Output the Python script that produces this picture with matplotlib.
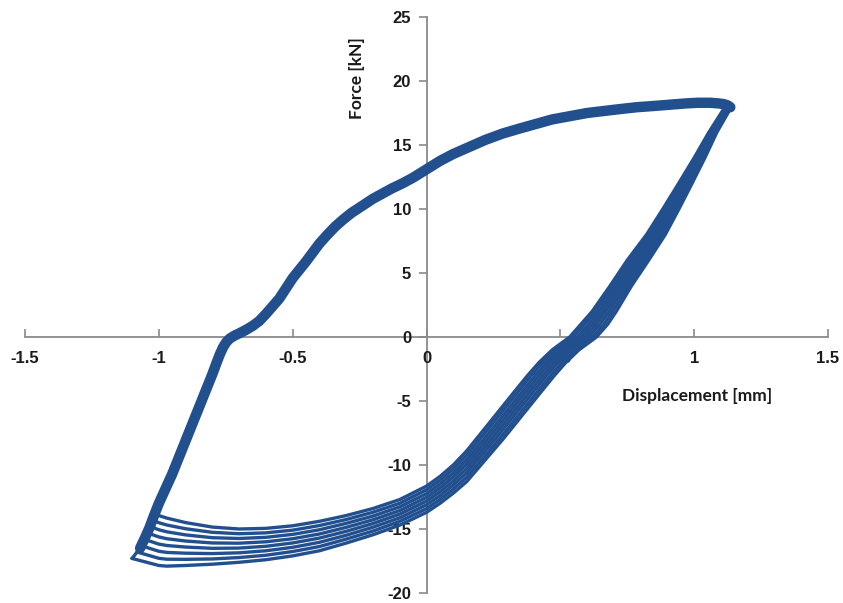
import matplotlib
matplotlib.use("Agg")
import matplotlib.pyplot as plt

# Loading branch (negative peak -> positive peak), common to all cycles
load_disp = [-1.100, -1.085, -1.070, -1.052, -1.035, -1.018, -1.000, -0.975,
             -0.950, -0.925, -0.900, -0.875, -0.850, -0.825, -0.800, -0.785,
             -0.772, -0.760, -0.748, -0.735, -0.718, -0.700, -0.675, -0.650,
             -0.625, -0.600, -0.575, -0.550, -0.525, -0.500, -0.475, -0.450,
             -0.425, -0.400, -0.370, -0.340, -0.310, -0.280, -0.240, -0.200,
             -0.165, -0.130, -0.090, -0.050, 0.000, 0.050, 0.100, 0.160,
             0.220, 0.285, 0.350, 0.410, 0.470, 0.535, 0.600, 0.660,
             0.720, 0.785, 0.850, 0.910, 0.970, 1.015, 1.060, 1.090,
             1.110, 1.125, 1.135]
load_force = [-17.3, -16.9, -16.5, -15.7, -14.9, -13.95, -13.0, -11.85,
              -10.7, -9.4, -8.1, -6.8, -5.5, -4.2, -2.9, -2.05,
              -1.35, -0.8, -0.4, -0.12, 0.1, 0.28, 0.55, 0.86,
              1.25, 1.8, 2.4, 3.0, 3.8, 4.6, 5.25, 5.9,
              6.6, 7.3, 8.0, 8.65, 9.2, 9.7, 10.25, 10.8,
              11.2, 11.6, 12.0, 12.45, 13.1, 13.75, 14.3, 14.85,
              15.4, 15.9, 16.3, 16.65, 17.0, 17.25, 17.5, 17.65,
              17.8, 17.95, 18.05, 18.15, 18.25, 18.3, 18.3, 18.25,
              18.2, 18.1, 17.95]

# Unloading branch: displacement of each cycle at these force levels
unload_force = [17.9, 16, 14, 12, 10, 8, 6, 4, 2, 1, 0, -1, -2, -3, -4, -6, -8]
unload_disp = [
    [1.113, 1.055, 1.000, 0.942, 0.883, 0.822, 0.750, 0.686, 0.619, 0.577, 0.535, 0.470, 0.420, 0.378, 0.339, 0.262, 0.185],
    [1.116, 1.059, 1.006, 0.949, 0.892, 0.832, 0.761, 0.697, 0.632, 0.591, 0.549, 0.484, 0.434, 0.392, 0.353, 0.276, 0.199],
    [1.120, 1.064, 1.011, 0.956, 0.900, 0.842, 0.773, 0.709, 0.645, 0.606, 0.564, 0.499, 0.449, 0.407, 0.368, 0.291, 0.214],
    [1.123, 1.068, 1.017, 0.963, 0.909, 0.852, 0.784, 0.720, 0.658, 0.620, 0.578, 0.513, 0.463, 0.421, 0.382, 0.305, 0.228],
    [1.127, 1.072, 1.023, 0.971, 0.917, 0.862, 0.796, 0.732, 0.670, 0.634, 0.592, 0.527, 0.477, 0.435, 0.396, 0.319, 0.242],
    [1.130, 1.076, 1.029, 0.978, 0.926, 0.872, 0.807, 0.743, 0.683, 0.648, 0.606, 0.541, 0.491, 0.449, 0.410, 0.333, 0.256],
    [1.134, 1.081, 1.034, 0.985, 0.934, 0.882, 0.819, 0.755, 0.696, 0.663, 0.621, 0.556, 0.506, 0.464, 0.425, 0.348, 0.271],
    [1.137, 1.085, 1.040, 0.992, 0.943, 0.892, 0.830, 0.766, 0.709, 0.677, 0.635, 0.570, 0.520, 0.478, 0.439, 0.362, 0.285],
]

# Lower branch: force of each cycle at these displacements
lower_disp = [0.15, 0.1, 0.05, 0.0, -0.1, -0.2, -0.3, -0.4, -0.5, -0.6, -0.7, -0.8, -0.9, -0.97, -1.0]
lower_force = [
    [-8.90, -10.00, -10.90, -11.65, -12.70, -13.40, -13.95, -14.40, -14.75, -14.95, -15.00, -14.85, -14.50, -14.15, -13.95],
    [-9.24, -10.31, -11.20, -11.94, -12.99, -13.69, -14.26, -14.73, -15.09, -15.30, -15.37, -15.26, -14.98, -14.69, -14.51],
    [-9.59, -10.63, -11.50, -12.24, -13.27, -13.99, -14.56, -15.06, -15.42, -15.65, -15.74, -15.68, -15.46, -15.22, -15.06],
    [-9.93, -10.94, -11.80, -12.53, -13.56, -14.28, -14.87, -15.39, -15.76, -16.00, -16.11, -16.09, -15.94, -15.76, -15.62],
    [-10.27, -11.26, -12.10, -12.82, -13.84, -14.57, -15.18, -15.71, -16.09, -16.35, -16.49, -16.51, -16.41, -16.29, -16.18],
    [-10.61, -11.57, -12.40, -13.11, -14.13, -14.86, -15.49, -16.04, -16.43, -16.70, -16.86, -16.92, -16.89, -16.83, -16.74],
    [-10.96, -11.89, -12.70, -13.41, -14.41, -15.16, -15.79, -16.37, -16.76, -17.05, -17.23, -17.34, -17.37, -17.36, -17.29],
    [-11.30, -12.20, -13.00, -13.70, -14.70, -15.45, -16.10, -16.70, -17.10, -17.40, -17.60, -17.75, -17.85, -17.90, -17.85],
]

# Negative peak of each cycle
corner_disp = [-1.015, -1.024, -1.033, -1.044, -1.055, -1.066, -1.081, -1.100]
corner_force = [-13.8, -14.3, -14.8, -15.3, -15.8, -16.3, -16.8, -17.3]

x_ticks = [-1.5, -1, -0.5, 0, 0.5, 1, 1.5]
x_tick_labels = ["-1.5", "-1", "-0.5", "0", "0.5", "1", "1.5"]
y_ticks = [-20, -15, -10, -5, 0, 5, 10, 15, 20, 25]
y_tick_labels = ["-20", "-15", "-10", "-5", "0", "5", "10", "15", "20", "25"]

line_color = "#22508e"
axis_color = "#8a8a8a"

fig = plt.figure(figsize=(8.43, 6.03), dpi=100)
ax = fig.add_axes([25 / 843, 1 - 593 / 603, 803 / 843, 576 / 603])

for k in range(len(corner_force)):
    xs = [corner_disp[k]]
    ys = [corner_force[k]]
    for d, f in zip(load_disp, load_force):
        if f > corner_force[k]:
            xs.append(d)
            ys.append(f)
    xs += unload_disp[k]
    ys += unload_force
    xs += lower_disp
    ys += lower_force[k]
    xs.append(corner_disp[k])
    ys.append(corner_force[k])
    ax.plot(xs, ys, color=line_color, lw=2.4, solid_joinstyle="round",
            solid_capstyle="round", zorder=3)

# the loading branches lie almost on top of each other
ax.plot(load_disp[2:], load_force[2:], color=line_color, lw=7.5,
        solid_joinstyle="round", solid_capstyle="round", zorder=3)

ax.set_xlim(-1.5, 1.5)
ax.set_ylim(-20, 25)

for side in ["top", "right"]:
    ax.spines[side].set_visible(False)
ax.spines["left"].set_position(("data", 0))
ax.spines["bottom"].set_position(("data", 0))
for side in ["left", "bottom"]:
    ax.spines[side].set_color(axis_color)
    ax.spines[side].set_linewidth(1.3)
    ax.spines[side].set_zorder(1)

ax.set_xticks(x_ticks)
ax.set_xticklabels(x_tick_labels)
ax.set_yticks(y_ticks)
ax.set_yticklabels(y_tick_labels)
ax.tick_params(axis="x", direction="in", length=6, width=1.2, color=axis_color, pad=10)
ax.tick_params(axis="y", direction="out", length=6, width=1.2, color=axis_color, pad=5)
for lab in ax.get_xticklabels() + ax.get_yticklabels():
    lab.set_fontfamily("Liberation Sans")
    lab.set_fontweight("bold")
    lab.set_fontsize(12)
    lab.set_color("#1a1a1a")

ax.text(1.01, -4.6, "Displacement [mm]", ha="center", va="center",
        fontsize=12.5, fontweight="bold", family="Lato", color="#1a1a1a")
ax.text(-0.26, 20.2, "Force [kN]", ha="center", va="center", rotation=90,
        fontsize=12.5, fontweight="bold", family="Lato", color="#1a1a1a")

fig.savefig("out.png", dpi=100)
